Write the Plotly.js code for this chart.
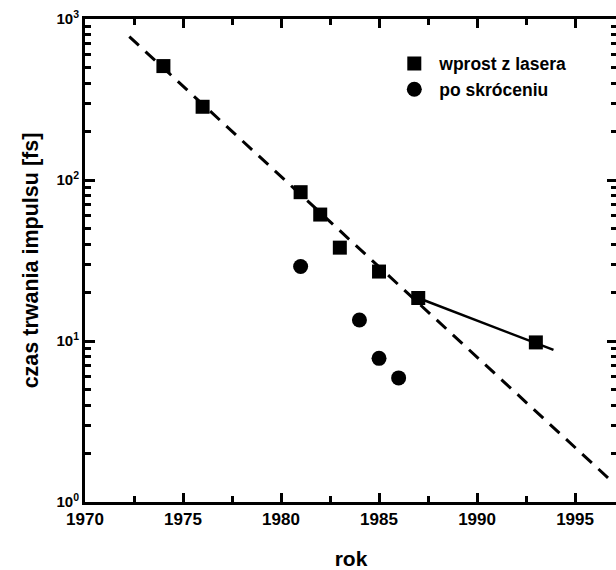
<!DOCTYPE html>
<html>
<head>
<meta charset="utf-8">
<script src="https://cdn.plot.ly/plotly-3.0.1.min.js"></script>
<style>
  html, body { margin: 0; padding: 0; background: #fff; overflow: hidden; }
  #chart { width: 620px; height: 570px; }
</style>
</head>
<body>
<div id="chart"></div>
<script>
// Pulse durations straight from the laser (squares)
const yearsLaser = [1974, 1976, 1981, 1982, 1983, 1985, 1987, 1993];
const tauLaser   = [510, 285, 84, 61, 38, 27, 18.5, 9.8];

// Pulse durations after compression (circles)
const yearsCompressed = [1981, 1984, 1985, 1986];
const tauCompressed   = [29, 13.5, 7.8, 5.9];

// Dashed overall trend and solid recent trend (end points)
const trendYears = [1972.26, 1996.8];
const trendTau   = [777, 1.37];
const recentYears = [1987, 1993.9];
const recentTau   = [18.5, 8.8];

// Axis labelling
const decadeVals  = [1, 10, 100, 1000];
const decadeTexts = ['10<sup>0</sup>', '10<sup>1</sup>', '10<sup>2</sup>', '10<sup>3</sup>'];
const legendNames = ['wprost z lasera', 'po skróceniu'];

const FONT = 'Liberation Sans, Arial, Helvetica, sans-serif';
const NO_GRID = 'rgba(0,0,0,0)';

const traces = [
  { x: trendYears, y: trendTau, mode: 'lines', showlegend: false,
    line: { color: '#000', width: 3, dash: '13px,9px' } },
  { x: recentYears, y: recentTau, mode: 'lines', showlegend: false,
    line: { color: '#000', width: 2.5 } },
  { x: yearsLaser, y: tauLaser, mode: 'markers', name: legendNames[0],
    marker: { symbol: 'square', size: 14, color: '#000' } },
  { x: yearsCompressed, y: tauCompressed, mode: 'markers', name: legendNames[1],
    marker: { symbol: 'circle', size: 15, color: '#000' } }
];

const layout = {
  width: 620, height: 570,
  margin: { l: 85, r: 3, t: 19, b: 68 },
  font: { family: FONT, color: '#000' },
  legend: {
    x: 0.572, y: 0.945, xanchor: 'left', yanchor: 'top',
    bgcolor: 'rgba(0,0,0,0)', borderwidth: 0,
    font: { size: 17.5, weight: 'bold' },
    itemwidth: 40
  },
  xaxis: {
    range: [1970, 1997.14],
    tickmode: 'linear', tick0: 1970, dtick: 5,
    ticks: 'inside', ticklen: 9, tickwidth: 2.5, tickcolor: '#000',
    minor: { dtick: 2.5, ticks: 'inside', ticklen: 6, tickwidth: 2.5, tickcolor: '#000', gridcolor: NO_GRID },
    showline: true, linewidth: 3, linecolor: '#000', mirror: 'allticks',
    gridcolor: NO_GRID,
    tickfont: { size: 17, color: '#000', weight: 'bold' },
    title: { text: 'rok', font: { size: 21, weight: 'bold' }, standoff: 29 }
  },
  yaxis: {
    type: 'log', range: [0, 3],
    tickmode: 'array', tickvals: decadeVals, ticktext: decadeTexts,
    ticks: 'inside', ticklen: 10, tickwidth: 2.5, tickcolor: '#000',
    minor: { dtick: 'D1', ticks: 'inside', ticklen: 6, tickwidth: 2.5, tickcolor: '#000', gridcolor: NO_GRID },
    showline: true, linewidth: 3, linecolor: '#000', mirror: 'allticks',
    gridcolor: NO_GRID,
    tickfont: { size: 15, color: '#000', weight: 'bold' },
    title: { text: 'czas trwania impulsu [fs]', font: { size: 21.5, weight: 'bold' }, standoff: 12 }
  }
};

Plotly.newPlot('chart', traces, layout, { displayModeBar: false });
</script>
</body>
</html>
